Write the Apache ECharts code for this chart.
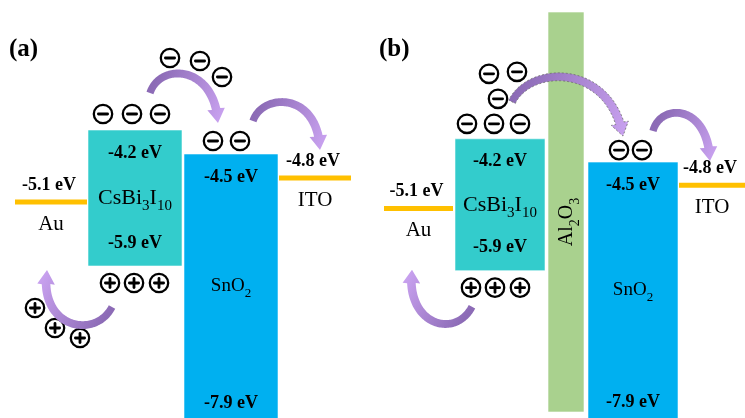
<!DOCTYPE html>
<html>
<head>
<meta charset="utf-8">
<script src="https://cdn.jsdelivr.net/npm/echarts@6/dist/echarts.min.js"></script>
<style>
  html, body { margin: 0; padding: 0; background: #ffffff; }
  #chart { width: 745px; height: 418px; }
</style>
</head>
<body>
<div id="chart"></div>
<script>
// ---- Energy levels of the device stack (eV vs. vacuum) ----
const layerNames = ['Au', 'CsBi3I10', 'SnO2', 'ITO'];
const upperLevel = [-5.1, -4.2, -4.5, -4.8];   // work function / conduction band minimum
const lowerLevel = [null, -5.9, -7.9, null];   // valence band maximum (null for metals)
const barrierName = 'Al2O3';
const panelTags = ['(a)', '(b)'];

// ---- Presentation ----
const SERIF = '"Liberation Serif", "Times New Roman", serif';
const layerColor = { Au: '#FFC000', CsBi3I10: '#33CCCC', SnO2: '#00B0F0', ITO: '#FFC000' };
const richName = { Au: 'Au', CsBi3I10: 'CsBi{s|3}I{s|10}', SnO2: 'SnO{s|2}', ITO: 'ITO', Al2O3: 'Al{s|2}O{s|3}' };
const nameSize = { Au: 21, CsBi3I10: 22, SnO2: 19, ITO: 21 };

// horizontal placement of the layers in each panel (x axis runs in panel pixels),
// plus the energy window shown by each panel's vertical axis
const panels = [
  { left: 0,   width: 372, eMax: -2.575, eMin: -7.8, spans: [[15, 87], [88, 182], [184, 278], [279, 351]] },
  { left: 372, width: 373, eMax: -2.41,  eMin: -7.8, spans: [[12, 81], [83, 173], [216, 306], [307, 373]], barrier: [176, 212] }
];

const chart = echarts.init(document.getElementById('chart'));

function txt(x, y, text, size, bold) {
  return {
    type: 'text', x: x, y: y,
    style: {
      text: text, align: 'center', verticalAlign: 'middle',
      fontFamily: SERIF, fontSize: size, fontWeight: bold ? 'bold' : 'normal', fill: '#000'
    }
  };
}

function richStyle(size) {
  return { s: { fontSize: Math.round(size * 0.68), fontFamily: SERIF, padding: [16, 0, 0, 0], fill: '#000' } };
}

function renderLayer(params, api) {
  const idx = api.value(4);
  const name = layerNames[idx];
  const p1 = api.coord([api.value(0), api.value(2)]);
  const p2 = api.coord([api.value(1), api.value(3)]);
  const cx = (p1[0] + p2[0]) / 2;
  const children = [];
  const nameText = txt(cx, 0, richName[name], nameSize[name], false);
  nameText.style.rich = richStyle(nameSize[name]);
  if (lowerLevel[idx] === null) {
    // metal electrode: a single Fermi-level line
    children.push({ type: 'rect', shape: { x: p1[0], y: p1[1] - 2.5, width: p2[0] - p1[0], height: 5 },
                    style: { fill: layerColor[name] } });
    children.push(txt(cx - 2, p1[1] - 17, api.value(2).toFixed(1) + ' eV', 18, true));
    nameText.y = p1[1] + 22;
    children.push(nameText);
  } else {
    children.push({ type: 'rect', shape: { x: p1[0], y: p1[1], width: p2[0] - p1[0], height: p2[1] - p1[1] },
                    style: { fill: layerColor[name], stroke: 'rgba(255,255,255,0.55)', lineWidth: 1 } });
    children.push(txt(cx, p1[1] + 23, api.value(2).toFixed(1) + ' eV', 18, true));
    children.push(txt(cx, p2[1] - 23, api.value(3).toFixed(1) + ' eV', 18, true));
    nameText.y = (p1[1] + p2[1]) / 2 + (name === 'SnO2' ? -4 : 0);
    children.push(nameText);
  }
  return { type: 'group', children: children };
}

const grids = [], xAxes = [], yAxes = [], series = [];
panels.forEach(function (pl, i) {
  grids.push({ left: pl.left, top: 0, width: pl.width, height: 418 });
  xAxes.push({ type: 'value', gridIndex: i, min: 0, max: pl.width, show: false });
  yAxes.push({ type: 'value', gridIndex: i, min: pl.eMin, max: pl.eMax, show: false });
  const data = layerNames.map(function (n, k) {
    const lo = lowerLevel[k] === null ? upperLevel[k] : lowerLevel[k];
    return [pl.spans[k][0], pl.spans[k][1], upperLevel[k], lo, k];
  });
  series.push({
    type: 'custom', xAxisIndex: i, yAxisIndex: i, clip: false, silent: true,
    renderItem: renderLayer, data: data, z: 2
  });
});

chart.setOption({
  animation: false,
  backgroundColor: '#ffffff',
  grid: grids, xAxis: xAxes, yAxis: yAxes, series: series
});

// ---- charge carriers and transfer arrows, anchored to band edges ----
function px(i, x, e) { return chart.convertToPixel({ gridIndex: i }, [x, e]); }

function charge(c, sign) {
  const kids = [
    { type: 'circle', shape: { cx: c[0], cy: c[1], r: 9.2 }, style: { fill: '#fff', stroke: '#000', lineWidth: 2.3 } },
    { type: 'line', shape: { x1: c[0] - 4.6, y1: c[1], x2: c[0] + 4.6, y2: c[1] },
      style: { stroke: '#000', lineWidth: 2.8, lineCap: 'round' } }
  ];
  if (sign > 0) {
    kids.push({ type: 'line', shape: { x1: c[0], y1: c[1] - 4.6, x2: c[0], y2: c[1] + 4.6 },
                style: { stroke: '#000', lineWidth: 2.8, lineCap: 'round' } });
  }
  return { type: 'group', z: 20, children: kids };
}

function bez(p0, c1, c2, p3, t) {
  const u = 1 - t;
  return [
    u * u * u * p0[0] + 3 * u * u * t * c1[0] + 3 * u * t * t * c2[0] + t * t * t * p3[0],
    u * u * u * p0[1] + 3 * u * u * t * c1[1] + 3 * u * t * t * c2[1] + t * t * t * p3[1]
  ];
}

function curvedArrow(p0, c1, c2, tip, dashed) {
  const N = 80, pts = [];
  for (let k = 0; k <= N; k++) pts.push(bez(p0, c1, c2, tip, k / N));
  const acc = [0];
  for (let k = 1; k <= N; k++) acc.push(acc[k - 1] + Math.hypot(pts[k][0] - pts[k - 1][0], pts[k][1] - pts[k - 1][1]));
  const total = acc[N], headLen = 13, halfW = 4.3, headHalf = 8.8;
  let baseIdx = 0;
  while (baseIdx < N && total - acc[baseIdx + 1] >= headLen) baseIdx++;
  const left = [], right = [];
  for (let k = 0; k <= baseIdx; k++) {
    const a = pts[Math.max(0, k - 1)], b = pts[Math.min(N, k + 1)];
    const dx = b[0] - a[0], dy = b[1] - a[1], l = Math.hypot(dx, dy) || 1;
    const nx = -dy / l, ny = dx / l;
    const w = halfW * (0.85 + 0.15 * k / baseIdx);
    left.push([pts[k][0] + nx * w, pts[k][1] + ny * w]);
    right.push([pts[k][0] - nx * w, pts[k][1] - ny * w]);
  }
  const B = pts[baseIdx];
  const dx = tip[0] - B[0], dy = tip[1] - B[1], l = Math.hypot(dx, dy) || 1;
  const nx = -dy / l, ny = dx / l;
  const poly = left.concat([
    [B[0] + nx * headHalf, B[1] + ny * headHalf], tip, [B[0] - nx * headHalf, B[1] - ny * headHalf]
  ]).concat(right.reverse());
  const fill = new echarts.graphic.LinearGradient(p0[0], p0[1], tip[0], tip[1], [
    { offset: 0, color: '#8C6BB6' }, { offset: 1, color: '#C7A0EE' }
  ], true);
  const style = { fill: fill };
  if (dashed) { style.stroke = '#6E6E6E'; style.lineWidth = 0.8; style.lineDash = [2, 2]; }
  return { type: 'polygon', z: 15, shape: { points: poly }, style: style };
}

function add(p, d) { return [p[0] + d[0], p[1] + d[1]]; }

const gfx = [];
panels.forEach(function (pl, i) {
  const cs = 1, sn = 2;
  const csTL = px(i, pl.spans[cs][0], upperLevel[cs]);
  const csBL = px(i, pl.spans[cs][0], lowerLevel[cs]);
  const snTL = px(i, pl.spans[sn][0], upperLevel[sn]);
  const origin = px(i, 0, pl.eMax);

  gfx.push({ type: 'text', z: 30, x: origin[0] + (i === 0 ? 9 : 7), y: 50,
             style: { text: panelTags[i], align: 'left', verticalAlign: 'middle',
                      fontFamily: SERIF, fontSize: 25, fontWeight: 'bold', fill: '#000' } });

  if (i === 0) {
    [[15, -16], [44, -16], [72, -16], [82, -72], [112, -69], [134, -53]].forEach(d => gfx.push(charge(add(csTL, d), -1)));
    [[29, -13], [56, -13]].forEach(d => gfx.push(charge(add(snTL, d), -1)));
    [[22, 17], [46, 17], [71, 17], [-53, 42], [-33, 62], [-8, 72]].forEach(d => gfx.push(charge(add(csBL, d), 1)));
    gfx.push(curvedArrow(add(csTL, [62, -37]), add(csTL, [72, -68]), add(snTL, [31, -89]), add(snTL, [34, -31])));
    gfx.push(curvedArrow(add(snTL, [69, -33]), add(snTL, [78, -61]), add(snTL, [134, -63]), add(snTL, [136, -4])));
    gfx.push(curvedArrow(add(csBL, [24, 41]), add(csBL, [7, 74]), add(csBL, [-50, 62]), add(csBL, [-41, 4])));
  } else {
    // Al2O3 tunnelling layer between absorber and electron transport layer
    const bx0 = px(i, pl.barrier[0], -5)[0], bx1 = px(i, pl.barrier[1], -5)[0];
    gfx.push({ type: 'rect', z: 5, shape: { x: bx0, y: 12, width: bx1 - bx0, height: 400 },
               style: { fill: '#A9D18E', stroke: 'rgba(255,255,255,0.6)', lineWidth: 1 } });
    gfx.push({ type: 'text', z: 6, x: (bx0 + bx1) / 2 + 1, y: 222, rotation: Math.PI / 2,
               style: { text: richName[barrierName], align: 'center', verticalAlign: 'middle',
                        fontFamily: SERIF, fontSize: 20, fill: '#000', rich: richStyle(20) } });
    [[12, -15], [39, -15], [65, -15], [34, -65], [62, -67], [43, -40]].forEach(d => gfx.push(charge(add(csTL, d), -1)));
    [[31, -12], [54, -12]].forEach(d => gfx.push(charge(add(snTL, d), -1)));
    [[16, 17], [40, 17], [65, 17]].forEach(d => gfx.push(charge(add(csBL, d), 1)));
    gfx.push(curvedArrow(add(csTL, [57, -37]), add(csTL, [75, -74]), add(snTL, [22, -99]), add(snTL, [35, -26]), true));
    gfx.push(curvedArrow(add(snTL, [65, -31]), add(snTL, [72, -59]), add(snTL, [120, -59]), add(snTL, [122, -1])));
    gfx.push(curvedArrow(add(csBL, [17, 36]), add(csBL, [0, 69]), add(csBL, [-50, 54]), add(csBL, [-43, -1])));
  }
});

chart.setOption({ graphic: { elements: gfx } });
</script>
</body>
</html>
